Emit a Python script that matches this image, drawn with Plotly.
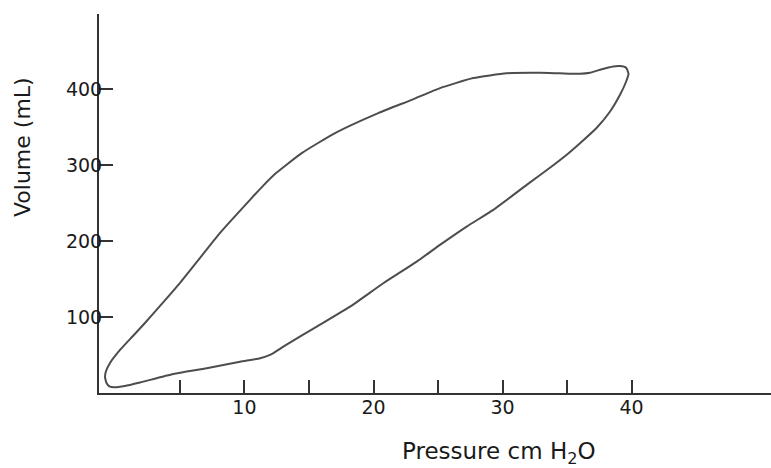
import plotly.graph_objects as go

# Pressure-volume loop (cm H2O, mL), traced around the loop
pressure = [-0.81, -0.69, -0.46, -0.11, 0.74, 1.91, 4.49, 7.08, 9.66, 11.21, 11.98, 13.01,
            15.60, 18.18, 20.76, 23.35, 25.15, 27.22, 29.28, 31.87, 33.93, 34.97, 36.00,
            37.30, 38.33, 39.10, 39.57, 39.76, 39.57, 39.10,
            38.58, 37.55, 36.78, 36.00, 34.45, 32.90, 30.32, 27.73, 25.15, 22.96, 20.37,
            17.02, 14.44, 12.45, 11.44, 10.43, 8.11, 6.56, 5.01, 3.46, 2.29, 1.36, 0.36,
            -0.42, -0.77, -0.81]
volume = [21.1, 13.2, 8.8, 7.5, 9.2, 13.8, 25.0, 32.5, 41.2, 45.7, 50.1, 61.0,
          87.4, 113.7, 144.5, 173.0, 195.0, 219.1, 241.1, 274.0, 299.8, 313.6, 328.8,
          349.2, 370.6, 392.6, 409.8, 420.3, 428.2, 430.4,
          429.9, 425.6, 421.6, 420.3, 420.9, 421.6, 420.9, 414.6, 401.4, 386.0, 368.5,
          342.2, 315.8, 289.5, 272.7, 254.3, 210.8, 177.9, 145.0, 114.6, 92.2, 75.1, 56.7,
          39.5, 26.4, 19.8]

x_tickvals = [10, 20, 30, 40]
x_ticktext = ["10", "20", "30", "40"]
x_minor_tickvals = [5, 15, 25, 35]
y_tickvals = [100, 200, 300, 400]
y_ticktext = ["100", "200", "300", "400"]

FONT = "DejaVu Sans, Liberation Sans, Arial, sans-serif"

fig = go.Figure()
fig.add_trace(go.Scatter(
    x=pressure, y=volume, mode="lines",
    line=dict(color="#4d4d4d", width=2, shape="spline", smoothing=0.5),
    hoverinfo="skip", showlegend=False,
))

fig.update_xaxes(
    range=[-1.27, 50.8], showgrid=False, zeroline=False,
    showline=True, linecolor="#333333", linewidth=2,
    ticks="inside", ticklen=13, tickwidth=1.5, tickcolor="#333333",
    tickvals=x_tickvals, ticktext=x_ticktext, ticklabelstandoff=-4,
    tickfont=dict(family=FONT, size=19, color="#1a1a1a"),
    minor=dict(tickvals=x_minor_tickvals, ticks="inside", ticklen=13,
               tickwidth=1.5, tickcolor="#333333", showgrid=False),
)
fig.update_yaxes(
    range=[0, 499], showgrid=False, zeroline=False,
    showline=True, linecolor="#333333", linewidth=2,
    ticks="inside", ticklen=14, tickwidth=1.5, tickcolor="#333333",
    tickvals=y_tickvals, ticktext=y_ticktext, ticklabelstandoff=-9,
    tickfont=dict(family=FONT, size=19, color="#1a1a1a"),
)

fig.add_annotation(
    text="Volume (mL)", xref="paper", yref="paper", x=-0.1146, y=0.649,
    xanchor="center", yanchor="middle", textangle=-90, showarrow=False,
    font=dict(family=FONT, size=22, color="#1a1a1a"),
)
fig.add_annotation(
    text="Pressure cm H<sub>2</sub>O", xref="paper", yref="paper", x=0.595, y=-0.157,
    xanchor="center", yanchor="middle", showarrow=False,
    font=dict(family=FONT, size=23, color="#1a1a1a"),
)

fig.update_layout(
    width=771, height=468,
    margin=dict(l=99, r=0, t=14, b=75),
    paper_bgcolor="white", plot_bgcolor="white",
)

fig.write_html("out.html", config={"displayModeBar": False},
               post_script="document.body.style.margin='0';")
